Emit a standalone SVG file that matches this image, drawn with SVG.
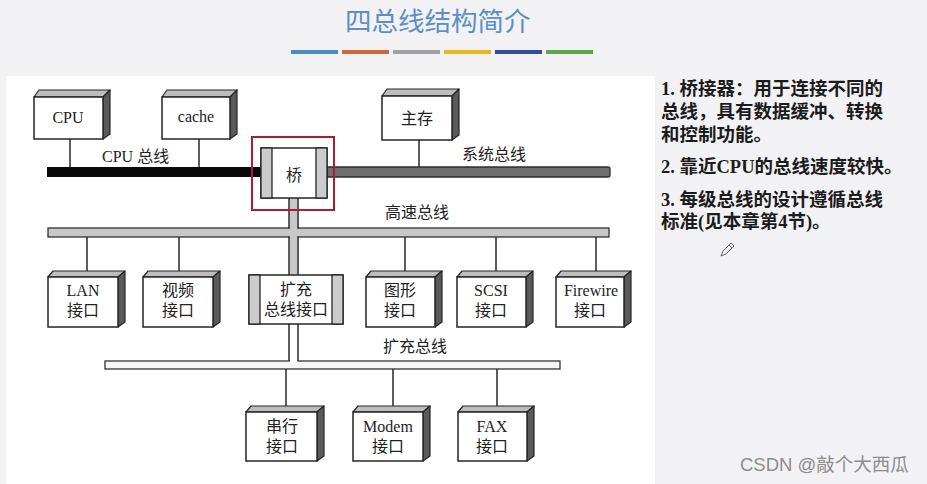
<svg xmlns="http://www.w3.org/2000/svg" width="927" height="484" viewBox="0 0 927 484">
<defs>
<style>
.bg{fill:#f2f2f4}
.panel{fill:#ffffff}
.title{font-family:"Noto Sans CJK SC","Noto Sans",sans-serif;font-size:26.5px;fill:#5b8fc6}
.front{fill:#ffffff;stroke:#262626;stroke-width:1.5}
.top{fill:#bdbdbd;stroke:#262626;stroke-width:1.2;stroke-linejoin:round}
.side{fill:#5a5a5a;stroke:#262626;stroke-width:1.2;stroke-linejoin:round}
.bar{fill:#cccccc;stroke:#262626;stroke-width:1.3}
.lbl{font-family:"Liberation Serif","Noto Sans CJK SC",serif;font-size:16px;fill:#222;text-anchor:middle}
.bus-lbl{font-family:"Liberation Serif","Noto Sans CJK SC",serif;font-size:16px;fill:#222}
.wire{stroke:#2a2a2a;stroke-width:1.5;fill:none}
.note{font-family:"Liberation Serif","Noto Sans CJK SC",serif;font-size:18.5px;font-weight:bold;fill:#1c1c1c}
.wm{font-family:"Liberation Sans","Noto Sans CJK SC",sans-serif;font-size:18.5px;fill:#8c8c8c}
</style>
</defs>

<rect class="bg" x="0" y="0" width="927" height="484"/>
<rect class="panel" x="6" y="76" width="649" height="408"/>

<text class="title" x="345" y="31">四总线结构简介</text>
<g id="title-rule">
<rect x="291" y="50" width="47" height="4" fill="#4a8ac6"/>
<rect x="342" y="50" width="47" height="4" fill="#d0683a"/>
<rect x="393" y="50" width="47" height="4" fill="#a2a2a2"/>
<rect x="444" y="50" width="47" height="4" fill="#e6b922"/>
<rect x="495" y="50" width="47" height="4" fill="#2f4f9e"/>
<rect x="546" y="50" width="47" height="4" fill="#5ba846"/>
</g>

<g id="connectors">
<!-- buses -->
<rect id="cpu-bus" x="47" y="167" width="214" height="10" fill="#0a0a0a"/>
<rect id="system-bus" x="327" y="167" width="283" height="10" rx="2" fill="#6e6e6e" stroke="#2e2e2e" stroke-width="1.3"/>
<rect id="highspeed-bus" x="48" y="228" width="561" height="9" fill="#c8c8c8" stroke="#333" stroke-width="1.3"/>
<rect id="ext-bus" x="105" y="361" width="455" height="8" fill="#f6f6f6" stroke="#333" stroke-width="1.3"/>
<!-- bridge vertical link -->
<rect x="289.6" y="198" width="7.8" height="77" fill="#c8c8c8"/>
<path class="wire" d="M289 198V228.6M298 198V228.6M289 236.4V275M298 236.4V275"/>
<rect x="289.6" y="324" width="7.8" height="38" fill="#ffffff"/>
<path class="wire" d="M289 324V361M298 324V361"/>
<!-- drops -->
<path class="wire" d="M70 139V167M199 139V167M419 140V167"/>
<path class="wire" d="M87 237V274M179 237V274M405 237V274M496 237V274M596 237V274"/>
<path class="wire" d="M286 369V409M393 369V409M497 369V409"/>
</g>

<text class="bus-lbl" x="102" y="162">CPU 总线</text>
<text class="bus-lbl" x="462" y="160">系统总线</text>
<text class="bus-lbl" x="385" y="218">高速总线</text>
<text class="bus-lbl" x="383" y="352">扩充总线</text>

<g id="cpu">
<polygon class="top" points="34,97 39,90 110,90 103,97"/>
<polygon class="side" points="103,97 110,90 110,134 103,139"/>
<rect class="front" x="34" y="97" width="69" height="42"/>
<text class="lbl" x="68" y="123">CPU</text>
</g>
<g id="cache">
<polygon class="top" points="162,97 167,90 237,90 230,97"/>
<polygon class="side" points="230,97 237,90 237,134 230,139"/>
<rect class="front" x="162" y="97" width="68" height="42"/>
<text class="lbl" x="196" y="122">cache</text>
</g>
<g id="main-memory">
<polygon class="top" points="382,96 387,89 459,89 452,96"/>
<polygon class="side" points="452,96 459,89 459,135 452,140"/>
<rect class="front" x="382" y="96" width="70" height="44"/>
<text class="lbl" x="417" y="124">主存</text>
</g>

<g id="bridge">
<rect x="261" y="148" width="66" height="50" class="front"/>
<rect x="261" y="148" width="11" height="50" class="bar"/>
<rect x="316" y="148" width="11" height="50" class="bar"/>
<text class="lbl" x="294" y="181">桥</text>
<rect x="252" y="137" width="82" height="73" fill="none" stroke="#a8202c" stroke-width="2"/>
</g>

<g id="lan">
<polygon class="top" points="48,277 53,271 125,271 118,277"/>
<polygon class="side" points="118,277 125,271 125,322 118,327"/>
<rect class="front" x="48" y="277" width="70" height="50"/>
<text class="lbl" x="83" y="296">LAN</text>
<text class="lbl" x="83" y="316">接口</text>
</g>
<g id="video">
<polygon class="top" points="143,277 148,271 220,271 213,277"/>
<polygon class="side" points="213,277 220,271 220,322 213,327"/>
<rect class="front" x="143" y="277" width="70" height="50"/>
<text class="lbl" x="178" y="296">视频</text>
<text class="lbl" x="178" y="316">接口</text>
</g>
<g id="ext-bus-interface">
<rect x="249" y="275" width="94" height="49" class="front"/>
<rect x="249" y="275" width="11" height="49" class="bar"/>
<rect x="332" y="275" width="11" height="49" class="bar"/>
<text class="lbl" x="296" y="295">扩充</text>
<text class="lbl" x="296" y="315">总线接口</text>
</g>
<g id="graphics">
<polygon class="top" points="366,277 371,271 442,271 435,277"/>
<polygon class="side" points="435,277 442,271 442,322 435,327"/>
<rect class="front" x="366" y="277" width="69" height="50"/>
<text class="lbl" x="400" y="296">图形</text>
<text class="lbl" x="400" y="316">接口</text>
</g>
<g id="scsi">
<polygon class="top" points="457,277 462,271 533,271 526,277"/>
<polygon class="side" points="526,277 533,271 533,322 526,327"/>
<rect class="front" x="457" y="277" width="69" height="50"/>
<text class="lbl" x="491" y="296">SCSI</text>
<text class="lbl" x="491" y="316">接口</text>
</g>
<g id="firewire">
<polygon class="top" points="556,277 561,271 631,271 624,277"/>
<polygon class="side" points="624,277 631,271 631,322 624,327"/>
<rect class="front" x="556" y="277" width="68" height="50"/>
<text class="lbl" x="591" y="296">Firewire</text>
<text class="lbl" x="590" y="316">接口</text>
</g>

<g id="serial">
<polygon class="top" points="246,412 251,406 324,406 317,412"/>
<polygon class="side" points="317,412 324,406 324,456 317,461"/>
<rect class="front" x="246" y="412" width="71" height="49"/>
<text class="lbl" x="282" y="432">串行</text>
<text class="lbl" x="282" y="452">接口</text>
</g>
<g id="modem">
<polygon class="top" points="353,412 358,406 430,406 423,412"/>
<polygon class="side" points="423,412 430,406 430,456 423,461"/>
<rect class="front" x="353" y="412" width="70" height="49"/>
<text class="lbl" x="388" y="432">Modem</text>
<text class="lbl" x="388" y="452">接口</text>
</g>
<g id="fax">
<polygon class="top" points="458,412 463,406 534,406 527,412"/>
<polygon class="side" points="527,412 534,406 534,456 527,461"/>
<rect class="front" x="458" y="412" width="69" height="49"/>
<text class="lbl" x="492" y="432">FAX</text>
<text class="lbl" x="492" y="452">接口</text>
</g>

<g id="notes">
<text class="note" x="661" y="95">1. 桥接器：用于连接不同的</text>
<text class="note" x="661" y="118">总线，具有数据缓冲、转换</text>
<text class="note" x="661" y="141">和控制功能。</text>
<text class="note" x="661" y="173">2. 靠近CPU的总线速度较快。</text>
<text class="note" x="661" y="206">3. 每级总线的设计遵循总线</text>
<text class="note" x="661" y="228">标准(见本章第4节)。</text>
</g>

<path d="M721 256l2-5 8-8 3 3-8 8z M729 245l3 3" fill="none" stroke="#666" stroke-width="1"/>

<text class="wm" x="740" y="471">CSDN @敲个大西瓜</text>
</svg>
